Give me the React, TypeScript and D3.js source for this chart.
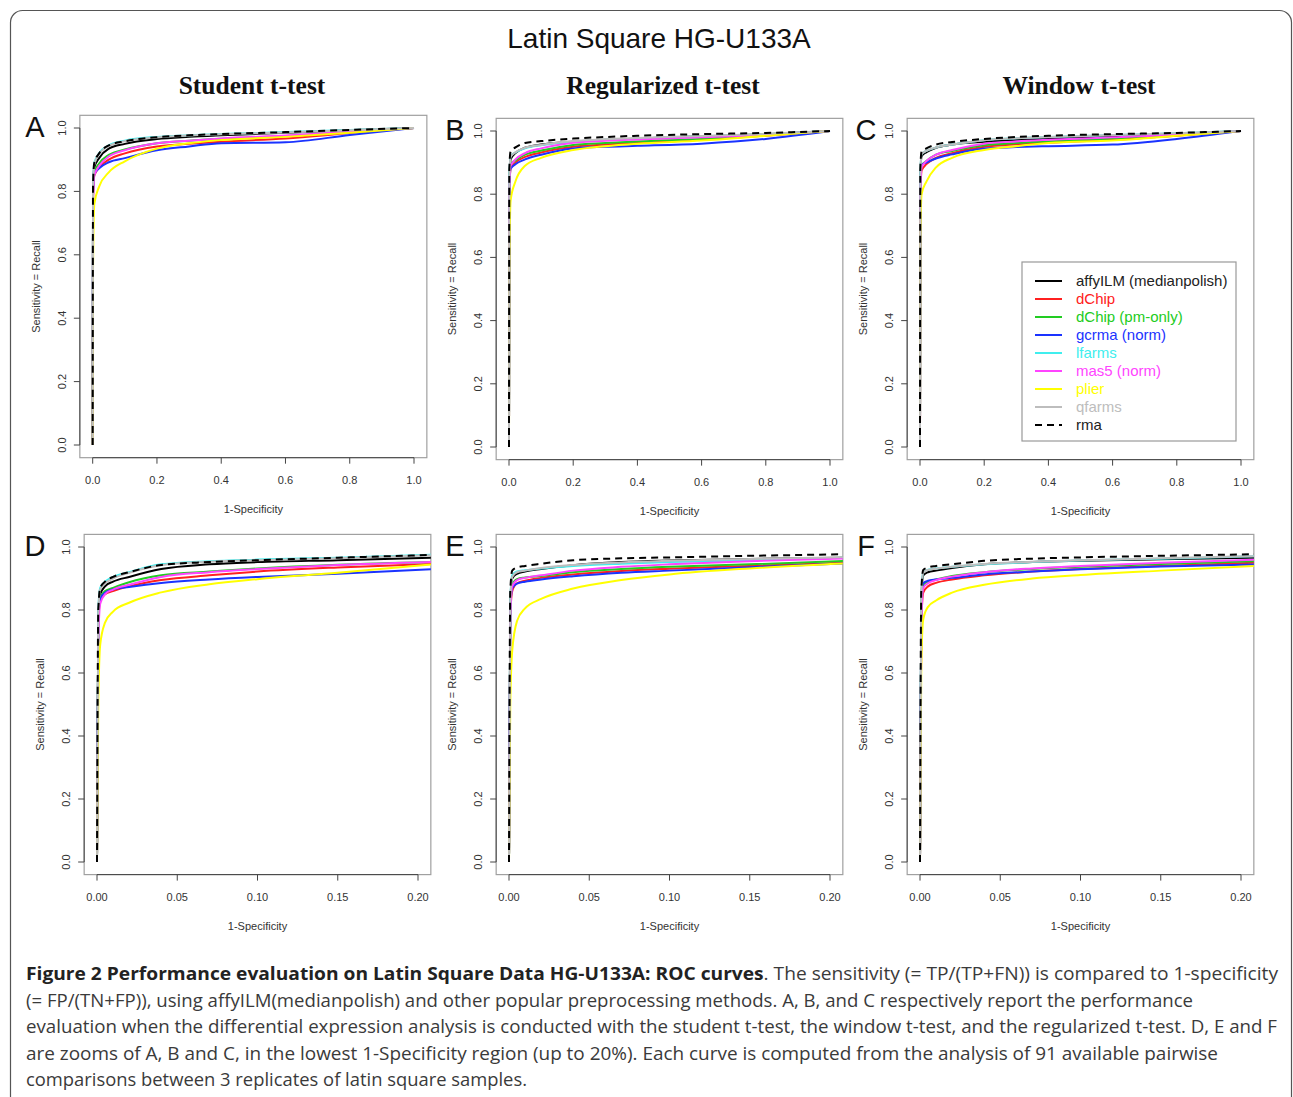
import React from "react";
import * as d3 from "d3";

const METHODS = ["affyILM (medianpolish)", "dChip", "dChip (pm-only)", "gcrma (norm)", "lfarms", "mas5 (norm)", "plier", "qfarms", "rma"];
const COLORS = ["#000000", "#ff2020", "#22cc22", "#1a33ff", "#40eeee", "#ff44ff", "#ffff00", "#bdbdbd", "#000000"];
const DASHED = [false, false, false, false, false, false, false, false, true];

const Y_TICKS = [0, 0.2, 0.4, 0.6, 0.8, 1.0];
const FULL_X_TICKS = [0, 0.2, 0.4, 0.6, 0.8, 1.0];
const ZOOM_X_TICKS = [0, 0.05, 0.1, 0.15, 0.2];

const FULL_X = [0, 0.001, 0.005, 0.02, 0.05, 0.1, 0.2, 0.3, 0.4, 0.6, 0.8, 1.0];
const ZOOM_X = [0, 0.0008, 0.002, 0.005, 0.01, 0.02, 0.04, 0.07, 0.1, 0.15, 0.21];

// Panel A: Student t-test (full)
const A_Y = [
  [0, 0.80, 0.875, 0.905, 0.935, 0.95, 0.965, 0.972, 0.977, 0.985, 0.993, 1.0],
  [0, 0.78, 0.85, 0.875, 0.9, 0.92, 0.942, 0.95, 0.957, 0.967, 0.984, 1.0],
  [0, 0.79, 0.86, 0.888, 0.915, 0.932, 0.952, 0.96, 0.966, 0.975, 0.987, 1.0],
  [0, 0.79, 0.855, 0.873, 0.892, 0.905, 0.93, 0.942, 0.952, 0.955, 0.978, 1.0],
  [0, 0.82, 0.89, 0.92, 0.945, 0.96, 0.972, 0.977, 0.981, 0.987, 0.994, 1.0],
  [0, 0.74, 0.85, 0.88, 0.91, 0.93, 0.952, 0.96, 0.967, 0.976, 0.988, 1.0],
  [0, 0.55, 0.76, 0.815, 0.86, 0.895, 0.935, 0.952, 0.962, 0.972, 0.985, 1.0],
  [0, 0.81, 0.885, 0.918, 0.943, 0.958, 0.97, 0.976, 0.98, 0.986, 0.993, 1.0],
  [0, 0.82, 0.89, 0.92, 0.945, 0.958, 0.971, 0.977, 0.981, 0.987, 0.994, 1.0],
];

// Panel B: Regularized t-test (full)
const B_Y = [
  [0, 0.84, 0.91, 0.93, 0.947, 0.957, 0.966, 0.972, 0.976, 0.983, 0.99, 1.0],
  [0, 0.80, 0.88, 0.9, 0.918, 0.932, 0.95, 0.957, 0.962, 0.972, 0.985, 1.0],
  [0, 0.82, 0.895, 0.907, 0.925, 0.938, 0.956, 0.962, 0.967, 0.975, 0.987, 1.0],
  [0, 0.82, 0.88, 0.895, 0.91, 0.925, 0.945, 0.95, 0.953, 0.96, 0.975, 1.0],
  [0, 0.85, 0.92, 0.932, 0.945, 0.955, 0.966, 0.972, 0.976, 0.983, 0.99, 1.0],
  [0, 0.80, 0.89, 0.91, 0.93, 0.945, 0.963, 0.969, 0.973, 0.98, 0.988, 1.0],
  [0, 0.55, 0.78, 0.84, 0.89, 0.915, 0.94, 0.952, 0.96, 0.97, 0.985, 1.0],
  [0, 0.85, 0.918, 0.933, 0.947, 0.956, 0.968, 0.974, 0.978, 0.984, 0.991, 1.0],
  [0, 0.88, 0.935, 0.948, 0.962, 0.968, 0.976, 0.981, 0.985, 0.99, 0.994, 1.0],
];

// Panel C: Window t-test (full)
const C_Y = [
  [0, 0.85, 0.92, 0.933, 0.947, 0.957, 0.966, 0.972, 0.976, 0.983, 0.99, 1.0],
  [0, 0.78, 0.875, 0.895, 0.915, 0.93, 0.95, 0.958, 0.963, 0.972, 0.985, 1.0],
  [0, 0.82, 0.89, 0.905, 0.925, 0.937, 0.955, 0.962, 0.967, 0.976, 0.987, 1.0],
  [0, 0.84, 0.893, 0.9, 0.913, 0.926, 0.945, 0.949, 0.952, 0.957, 0.975, 1.0],
  [0, 0.86, 0.928, 0.937, 0.948, 0.957, 0.971, 0.977, 0.981, 0.987, 0.993, 1.0],
  [0, 0.79, 0.885, 0.905, 0.925, 0.94, 0.96, 0.967, 0.972, 0.98, 0.988, 1.0],
  [0, 0.65, 0.80, 0.84, 0.885, 0.915, 0.94, 0.952, 0.962, 0.97, 0.985, 1.0],
  [0, 0.86, 0.927, 0.937, 0.948, 0.957, 0.971, 0.977, 0.981, 0.987, 0.993, 1.0],
  [0, 0.88, 0.935, 0.945, 0.957, 0.965, 0.975, 0.981, 0.985, 0.99, 0.994, 1.0],
];

// Panel D: Student t-test (zoom)
const D_Y = [
  [0, 0.78, 0.85, 0.875, 0.89, 0.905, 0.93, 0.945, 0.952, 0.958, 0.966],
  [0, 0.76, 0.83, 0.85, 0.86, 0.875, 0.895, 0.91, 0.922, 0.935, 0.946],
  [0, 0.77, 0.84, 0.86, 0.87, 0.888, 0.91, 0.922, 0.932, 0.944, 0.953],
  [0, 0.77, 0.835, 0.855, 0.865, 0.873, 0.886, 0.897, 0.905, 0.915, 0.93],
  [0, 0.80, 0.87, 0.89, 0.905, 0.92, 0.945, 0.955, 0.96, 0.966, 0.976],
  [0, 0.70, 0.82, 0.85, 0.865, 0.88, 0.905, 0.92, 0.93, 0.943, 0.953],
  [0, 0.50, 0.69, 0.76, 0.795, 0.823, 0.856, 0.882, 0.898, 0.918, 0.945],
  [0, 0.79, 0.865, 0.885, 0.90, 0.918, 0.942, 0.953, 0.958, 0.964, 0.974],
  [0, 0.80, 0.87, 0.89, 0.905, 0.92, 0.943, 0.952, 0.958, 0.966, 0.975],
];

// Panel E: Regularized t-test (zoom)
const E_Y = [
  [0, 0.82, 0.90, 0.915, 0.922, 0.93, 0.942, 0.952, 0.957, 0.962, 0.966],
  [0, 0.78, 0.86, 0.885, 0.893, 0.902, 0.913, 0.924, 0.931, 0.94, 0.95],
  [0, 0.80, 0.88, 0.898, 0.903, 0.908, 0.92, 0.93, 0.937, 0.945, 0.956],
  [0, 0.80, 0.87, 0.884, 0.89, 0.897, 0.907, 0.918, 0.925, 0.936, 0.948],
  [0, 0.83, 0.91, 0.922, 0.926, 0.932, 0.94, 0.947, 0.952, 0.958, 0.966],
  [0, 0.78, 0.875, 0.895, 0.902, 0.91, 0.925, 0.937, 0.945, 0.955, 0.964],
  [0, 0.50, 0.67, 0.765, 0.805, 0.835, 0.868, 0.895, 0.913, 0.932, 0.948],
  [0, 0.83, 0.905, 0.92, 0.925, 0.933, 0.943, 0.951, 0.956, 0.962, 0.968],
  [0, 0.86, 0.925, 0.935, 0.94, 0.947, 0.958, 0.964, 0.967, 0.972, 0.977],
];

// Panel F: Window t-test (zoom)
const F_Y = [
  [0, 0.83, 0.91, 0.92, 0.925, 0.933, 0.945, 0.952, 0.956, 0.961, 0.966],
  [0, 0.75, 0.855, 0.875, 0.886, 0.897, 0.91, 0.922, 0.93, 0.94, 0.95],
  [0, 0.80, 0.88, 0.89, 0.897, 0.908, 0.92, 0.93, 0.937, 0.946, 0.955],
  [0, 0.82, 0.885, 0.893, 0.897, 0.902, 0.913, 0.922, 0.929, 0.938, 0.945],
  [0, 0.84, 0.92, 0.928, 0.932, 0.937, 0.945, 0.952, 0.957, 0.963, 0.971],
  [0, 0.75, 0.87, 0.885, 0.895, 0.906, 0.92, 0.932, 0.94, 0.95, 0.96],
  [0, 0.62, 0.77, 0.81, 0.83, 0.855, 0.88, 0.90, 0.911, 0.925, 0.94],
  [0, 0.84, 0.918, 0.927, 0.931, 0.937, 0.946, 0.953, 0.958, 0.964, 0.971],
  [0, 0.86, 0.927, 0.935, 0.94, 0.945, 0.956, 0.963, 0.967, 0.972, 0.977],
];

const COLUMN_TITLES = ["Student t-test", "Regularized t-test", "Window t-test"];
const MAIN_TITLE = "Latin Square HG-U133A";

const CAPTION = [
  { bold: "Figure 2 Performance evaluation on Latin Square Data HG-U133A: ROC curves", rest: ". The sensitivity (= TP/(TP+FN)) is compared to 1-specificity", len: 1252 },
  { bold: "", rest: "(= FP/(TN+FP)), using affyILM(medianpolish) and other popular preprocessing methods. A, B, and C respectively report the performance", len: 1167 },
  { bold: "", rest: "evaluation when the differential expression analysis is conducted with the student t-test, the window t-test, and the regularized t-test. D, E and F", len: 1251 },
  { bold: "", rest: "are zooms of A, B and C, in the lowest 1-Specificity region (up to 20%). Each curve is computed from the analysis of 91 available pairwise", len: 1192 },
  { bold: "", rest: "comparisons between 3 replicates of latin square samples.", len: 501 },
];

type PanelDef = {
  id: string;
  ys: number[][];
  xs: number[];
  xDomain: [number, number];
  xTicks: number[];
  fmt: string;
  xr: [number, number];
  yr: [number, number];
  letterX: number;
  legend?: boolean;
};

const PANELS: PanelDef[] = [
  { id: "A", ys: A_Y, xs: FULL_X, xDomain: [0, 1], xTicks: FULL_X_TICKS, fmt: ".1f", xr: [92.7, 414], yr: [445, 128], letterX: 35 },
  { id: "B", ys: B_Y, xs: FULL_X, xDomain: [0, 1], xTicks: FULL_X_TICKS, fmt: ".1f", xr: [509, 830], yr: [447, 131], letterX: 455 },
  { id: "C", ys: C_Y, xs: FULL_X, xDomain: [0, 1], xTicks: FULL_X_TICKS, fmt: ".1f", xr: [920, 1241], yr: [447, 131], letterX: 866, legend: true },
  { id: "D", ys: D_Y, xs: ZOOM_X, xDomain: [0, 0.2], xTicks: ZOOM_X_TICKS, fmt: ".2f", xr: [97, 418], yr: [862, 547], letterX: 35 },
  { id: "E", ys: E_Y, xs: ZOOM_X, xDomain: [0, 0.2], xTicks: ZOOM_X_TICKS, fmt: ".2f", xr: [509, 830], yr: [862, 547], letterX: 455 },
  { id: "F", ys: F_Y, xs: ZOOM_X, xDomain: [0, 0.2], xTicks: ZOOM_X_TICKS, fmt: ".2f", xr: [920, 1241], yr: [862, 547], letterX: 866 },
];

const SANS = "'Liberation Sans', Arial, sans-serif";
const SERIF = "'Liberation Serif', 'Times New Roman', serif";

function Panel({ p }: { p: PanelDef }) {
  const x = d3.scaleLinear().domain(p.xDomain).range(p.xr);
  const y = d3.scaleLinear().domain([0, 1]).range(p.yr);
  const dx = (p.xr[1] - p.xr[0]) * 0.04;
  const dy = (p.yr[0] - p.yr[1]) * 0.04;
  const bx0 = p.xr[0] - dx, bx1 = p.xr[1] + dx;
  const by0 = p.yr[1] - dy, by1 = p.yr[0] + dy;
  const fmt = d3.format(p.fmt);
  const yfmt = d3.format(".1f");
  const line = d3
    .line<[number, number]>()
    .x((d) => x(d[0]))
    .y((d) => y(d[1]))
    .curve(d3.curveMonotoneX);
  const clipId = `clip-${p.id}`;
  const yMid = (by0 + by1) / 2;
  const xMid = (bx0 + bx1) / 2;
  const lx = 1022;
  return (
    <g>
      <defs>
        <clipPath id={clipId}>
          <rect x={bx0} y={by0} width={bx1 - bx0} height={by1 - by0} />
        </clipPath>
      </defs>
      <rect x={bx0} y={by0} width={bx1 - bx0} height={by1 - by0} fill="none" stroke="#a0a0a0" strokeWidth={1.2} />
      <g clipPath={`url(#${clipId})`}>
        {p.ys.map((ser, i) => (
          <path
            key={i}
            d={line(p.xs.map((xv, j) => [xv, ser[j]] as [number, number])) || ""}
            fill="none"
            stroke={COLORS[i]}
            strokeWidth={2}
            strokeDasharray={DASHED[i] ? "7,5" : undefined}
          />
        ))}
      </g>
      <line x1={x(p.xTicks[0])} x2={x(p.xTicks[p.xTicks.length - 1])} y1={by1} y2={by1} stroke="#444" strokeWidth={1} />
      {p.xTicks.map((t) => (
        <g key={t}>
          <line x1={x(t)} x2={x(t)} y1={by1} y2={by1 + 6} stroke="#444" strokeWidth={1} />
          <text x={x(t)} y={by1 + 26} textAnchor="middle" fontFamily={SANS} fontSize={11} fill="#333">
            {fmt(t)}
          </text>
        </g>
      ))}
      <text x={xMid} y={by1 + 55} textAnchor="middle" fontFamily={SANS} fontSize={11} fill="#333">
        1-Specificity
      </text>
      <line x1={bx0} x2={bx0} y1={y(0)} y2={y(1)} stroke="#444" strokeWidth={1} />
      {Y_TICKS.map((t) => (
        <g key={t}>
          <line x1={bx0 - 6} x2={bx0} y1={y(t)} y2={y(t)} stroke="#444" strokeWidth={1} />
          <text
            transform={`translate(${bx0 - 14},${y(t)}) rotate(-90)`}
            textAnchor="middle"
            fontFamily={SANS}
            fontSize={11}
            fill="#333"
          >
            {yfmt(t)}
          </text>
        </g>
      ))}
      <text
        transform={`translate(${bx0 - 40},${yMid}) rotate(-90)`}
        textAnchor="middle"
        fontFamily={SANS}
        fontSize={11}
        fill="#333"
      >
        Sensitivity = Recall
      </text>
      <text x={p.letterX} y={by0 + 22} textAnchor="middle" fontFamily={SANS} fontSize={29} fill="#111">
        {p.id}
      </text>
      {p.legend && (
        <g>
          <rect x={lx} y={262} width={214} height={179} fill="#fff" stroke="#999" strokeWidth={1.2} />
          {METHODS.map((m, i) => {
            const ry = 281 + i * 18;
            return (
              <g key={m}>
                <line
                  x1={lx + 13}
                  x2={lx + 40}
                  y1={ry}
                  y2={ry}
                  stroke={COLORS[i]}
                  strokeWidth={2}
                  strokeDasharray={DASHED[i] ? "7,5" : undefined}
                />
                <text x={lx + 54} y={ry + 5} fontFamily={SANS} fontSize={15} fill={i === 0 || i === 8 ? "#222" : COLORS[i]}>
                  {m}
                </text>
              </g>
            );
          })}
        </g>
      )}
    </g>
  );
}

export default function App() {
  return (
    <div style={{ position: "absolute", left: 0, top: 0 }}>
      <svg width={1293} height={1097} viewBox="0 0 1293 1097" style={{ display: "block", background: "#fff" }}>
        <rect x={10.5} y={10.5} width={1281} height={1110} rx={12} fill="#fff" stroke="#555" strokeWidth={1.2} />
        <text x={659} y={48} textAnchor="middle" fontFamily={SANS} fontSize={28} fill="#111">
          {MAIN_TITLE}
        </text>
        {COLUMN_TITLES.map((t, i) => (
          <text key={t} x={[252, 663, 1079][i]} y={94} textAnchor="middle" fontFamily={SERIF} fontWeight="bold" fontSize={25.5} fill="#111">
            {t}
          </text>
        ))}
        {PANELS.map((p) => (
          <Panel key={p.id} p={p} />
        ))}
        {CAPTION.map((c, i) => (
          <text
            key={i}
            x={26}
            y={980 + i * 26.6}
            fontFamily="'Open Sans', 'Noto Sans', sans-serif"
            fontSize={18.5}
            fill="#3a3a3a"
            textLength={c.len}
            lengthAdjust="spacingAndGlyphs"
          >
            {c.bold && (
              <tspan fontWeight="bold" fill="#222">
                {c.bold}
              </tspan>
            )}
            {c.rest}
          </text>
        ))}
      </svg>
    </div>
  );
}
